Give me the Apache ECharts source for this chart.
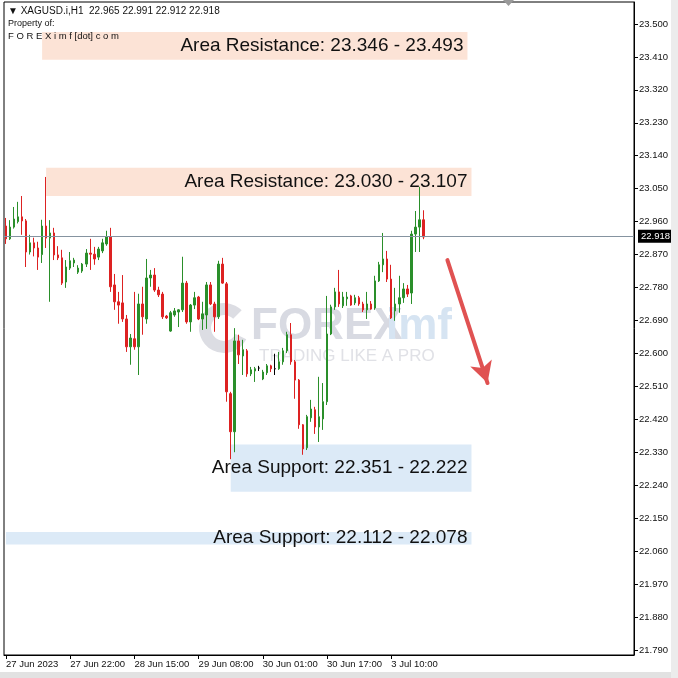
<!DOCTYPE html>
<html><head><meta charset="utf-8">
<script src="https://cdn.jsdelivr.net/npm/echarts@6.0.0/dist/echarts.min.js"></script>
<style>html,body{margin:0;padding:0;background:#fff}#c{width:678px;height:678px}</style>
</head><body><div id="c"></div>
<script>
// ---- data (XAGUSD.i H1) ----
const opens  = [22.948,22.913,22.945,22.960,22.973,22.962,22.877,22.902,22.888,22.870,22.948,22.915,22.929,22.869,22.861,22.795,22.833,22.847,22.822,22.825,22.844,22.874,22.871,22.863,22.880,22.899,22.918,22.787,22.741,22.738,22.694,22.618,22.640,22.618,22.735,22.694,22.806,22.814,22.773,22.762,22.702,22.661,22.705,22.713,22.719,22.792,22.686,22.732,22.754,22.694,22.705,22.787,22.735,22.700,22.844,22.790,22.490,22.386,22.634,22.593,22.607,22.544,22.552,22.560,22.530,22.547,22.566,22.558,22.558,22.577,22.607,22.651,22.577,22.527,22.405,22.342,22.424,22.446,22.399,22.421,22.468,22.653,22.727,22.768,22.730,22.749,22.757,22.738,22.752,22.735,22.719,22.735,22.724,22.798,22.842,22.858,22.803,22.716,22.735,22.752,22.776,22.765,22.926,22.945,22.965];
const closes = [22.913,22.945,22.967,22.973,22.962,22.877,22.902,22.888,22.863,22.948,22.915,22.929,22.869,22.861,22.792,22.836,22.853,22.855,22.833,22.844,22.874,22.871,22.858,22.885,22.902,22.918,22.782,22.741,22.732,22.694,22.618,22.642,22.618,22.735,22.700,22.806,22.814,22.773,22.760,22.700,22.697,22.711,22.716,22.719,22.792,22.686,22.732,22.752,22.694,22.708,22.787,22.735,22.700,22.844,22.792,22.495,22.386,22.634,22.596,22.610,22.544,22.555,22.558,22.560,22.549,22.566,22.558,22.558,22.577,22.607,22.651,22.577,22.527,22.405,22.339,22.427,22.448,22.399,22.427,22.468,22.653,22.727,22.768,22.735,22.754,22.754,22.732,22.752,22.735,22.719,22.735,22.721,22.798,22.842,22.858,22.803,22.697,22.735,22.752,22.776,22.762,22.926,22.945,22.965,22.918];
const lows   = [22.899,22.910,22.941,22.955,22.924,22.836,22.870,22.865,22.828,22.847,22.888,22.741,22.855,22.855,22.787,22.779,22.828,22.836,22.817,22.820,22.836,22.828,22.842,22.855,22.874,22.894,22.768,22.719,22.681,22.686,22.604,22.569,22.610,22.541,22.651,22.681,22.782,22.768,22.754,22.694,22.694,22.659,22.700,22.672,22.713,22.681,22.659,22.721,22.691,22.664,22.667,22.732,22.659,22.694,22.790,22.468,22.311,22.330,22.571,22.541,22.536,22.538,22.522,22.552,22.527,22.541,22.549,22.541,22.555,22.569,22.601,22.569,22.476,22.394,22.323,22.336,22.413,22.380,22.358,22.391,22.459,22.650,22.719,22.727,22.724,22.730,22.730,22.732,22.730,22.713,22.694,22.719,22.719,22.795,22.822,22.795,22.694,22.689,22.711,22.738,22.754,22.735,22.877,22.877,22.912];
const highs  = [22.970,22.964,23.000,23.014,23.030,22.967,22.924,22.916,22.905,22.965,23.082,22.964,22.943,22.893,22.883,22.855,22.877,22.861,22.841,22.847,22.885,22.913,22.891,22.891,22.913,22.935,22.943,22.817,22.768,22.814,22.705,22.653,22.768,22.763,22.782,22.858,22.828,22.833,22.782,22.768,22.705,22.716,22.724,22.721,22.864,22.798,22.735,22.768,22.757,22.741,22.795,22.795,22.741,22.853,22.861,22.795,22.495,22.669,22.651,22.637,22.612,22.563,22.563,22.566,22.555,22.571,22.569,22.599,22.604,22.615,22.659,22.683,22.582,22.530,22.407,22.432,22.473,22.454,22.536,22.519,22.757,22.733,22.779,22.828,22.768,22.768,22.760,22.760,22.757,22.741,22.768,22.743,22.812,22.850,22.929,22.880,22.842,22.779,22.812,22.792,22.787,22.935,22.989,23.055,22.991];

const lastPrice = 22.918;
const yTicks = [21.790,21.880,21.970,22.060,22.150,22.240,22.330,22.420,22.510,22.600,22.690,22.780,22.870,22.960,23.050,23.140,23.230,23.320,23.410,23.500];
const xTickLabels = ['27 Jun 2023','27 Jun 22:00','28 Jun 15:00','29 Jun 08:00','30 Jun 01:00','30 Jun 17:00','3 Jul 10:00'];
const xTickEvery = 16;

const zoneLabels = ['Area Resistance: 23.346 - 23.493','Area Resistance: 23.030 - 23.107','Area Support: 22.351 - 22.222','Area Support: 22.112 - 22.078'];
const zoneLow   = [23.402, 23.030, 22.222, 22.078];
const zoneHigh  = [23.478, 23.107, 22.351, 22.112];
const zoneStart = [9, 10, 56, 0];
const zoneEnd   = [115, 116, 116, 116];
const zoneKind  = ['res','res','sup','sup'];

// projected move (arrow) in data space: [barIndex, price]
const arrowFrom = [110, 22.855];
const arrowTo   = [120, 22.519];

// hourly bar times (metals: 01:00-23:00, no weekends)
const barSlots = 157;
const MON = ['Jan','Feb','Mar','Apr','May','Jun','Jul','Aug','Sep','Oct','Nov','Dec'];
const categories = [];
(function(){
  let t = Date.UTC(2023,5,27,6);
  while (categories.length < barSlots) {
    const d = new Date(t), day = d.getUTCDay(), h = d.getUTCHours();
    if (h !== 0 && day !== 0 && day !== 6) {
      categories.push(d.getUTCDate()+' '+MON[d.getUTCMonth()]+' '+String(h).padStart(2,'0')+':00');
    }
    t += 3600000;
  }
})();

const candles = opens.map((o,i)=>[o, closes[i], lows[i], highs[i]]);
const FONT = 'Liberation Sans';
const zoneFill = {res:'#fce3d6', sup:'#dceaf7'};

const chart = echarts.init(document.getElementById('c'), null, {renderer:'canvas'});
chart.setOption({
  animation:false,
  backgroundColor:'#ffffff',
  grid:{left:4, right:44, top:2, bottom:23, show:true, borderColor:'#000', borderWidth:1, backgroundColor:'transparent', outerBoundsMode:'none', containLabel:false},
  xAxis:{
    type:'category', data:categories, boundaryGap:true,
    axisLine:{show:true, lineStyle:{color:'#000', width:1}},
    axisTick:{show:true, alignWithLabel:true, length:4, lineStyle:{color:'#000'},
      interval:(i)=> i % xTickEvery === 0 && i / xTickEvery < xTickLabels.length},
    axisLabel:{show:true, align:'left', margin:4, fontSize:9.5, fontFamily:FONT, color:'#111',
      interval:(i)=> i % xTickEvery === 0 && i / xTickEvery < xTickLabels.length,
      formatter:(v,i)=> xTickLabels[i / xTickEvery] || ''},
    splitLine:{show:false}
  },
  yAxis:{
    type:'value', position:'right', min:21.776, max:23.560, scale:true,
    axisLine:{show:true, lineStyle:{color:'#000', width:1}},
    axisTick:{show:true, length:4, lineStyle:{color:'#000'}, customValues:yTicks},
    axisLabel:{show:true, margin:5, fontSize:9.5, fontFamily:FONT, color:'#111', customValues:yTicks,
      formatter:(v)=> Number(v).toFixed(3)},
    splitLine:{show:false}
  },
  series:[{
    type:'candlestick', data:candles, barWidth:2,
    itemStyle:{color:'#2a8f2a', color0:'#dd2222', borderColor:'#2a8f2a', borderColor0:'#dd2222', borderColorDoji:'#000000', borderWidth:1},
    markArea:{
      silent:true,
      data: zoneLabels.map((name,k)=>[
        {name:name, xAxis:zoneStart[k], yAxis:zoneHigh[k], itemStyle:{color:zoneFill[zoneKind[k]]}},
        {xAxis:zoneEnd[k], yAxis:zoneLow[k]}
      ]),
      label:{show:true, position:'insideRight', distance:4, formatter:'{b}', color:'#111', fontSize:19, fontFamily:FONT}
    },
    markLine:{
      silent:true, symbol:'none',
      data:[
        {yAxis:lastPrice, symbol:'none', lineStyle:{color:'#8593a0', width:1, type:'solid'},
          label:{show:true, position:'end', distance:4, formatter:()=> lastPrice.toFixed(3), backgroundColor:'#000', color:'#fff', padding:[2,3,1,3], fontSize:9.5, fontFamily:FONT}},
        [
          {coord:arrowFrom, symbol:'none', lineStyle:{color:'#e05252', width:4, type:'solid', cap:'round'}, label:{show:false}},
          {coord:arrowTo, symbol:'arrow', symbolSize:[17,21]}
        ]
      ]
    }
  }],
  graphic:[
    // window frame
    {type:'rect', shape:{x:0,y:672,width:678,height:6}, style:{fill:'#e2e2e2'}, z:100, silent:true},
    {type:'rect', shape:{x:671,y:0,width:7,height:678}, style:{fill:'#ececec'}, z:100, silent:true},
    {type:'polygon', shape:{points:[[503,0],[514,0],[508.5,6]]}, style:{fill:'#9a9a9a'}, z:100, silent:true},
    // header
    {type:'text', left:8, top:6, style:{text:'\u25BC XAGUSD.i,H1  22.965 22.991 22.912 22.918', font:'10px "Liberation Sans"', fill:'#111'}, z:100, silent:true},
    {type:'text', left:8, top:19, style:{text:'Property of:', font:'9px "Liberation Sans"', fill:'#111'}, z:100, silent:true},
    {type:'text', left:8, top:31, style:{text:'F O R E X i m f [dot] c o m', font:'9.5px "Liberation Sans"', fill:'#111'}, z:100, silent:true},
    // watermark
    {type:'arc', shape:{cx:224, cy:328, r:19, startAngle:Math.PI*0.15, endAngle:Math.PI*1.75, clockwise:true}, style:{stroke:'#dcdde3', lineWidth:12, fill:'none'}, z:0, silent:true},
    {type:'text', left:251, top:305, style:{text:'FOREX', font:'bold 44px "Liberation Sans"', fill:'#d8dae2'}, z:0, silent:true},
    {type:'text', left:386, top:305, style:{text:'imf', font:'bold 44px "Liberation Sans"', fill:'#d6e4f2'}, z:0, silent:true},
    {type:'text', left:259, top:348, style:{text:'TRADING LIKE A PRO', font:'17px "Liberation Sans"', fill:'#e0e1e6'}, z:0, silent:true}
  ]
});
</script></body></html>
